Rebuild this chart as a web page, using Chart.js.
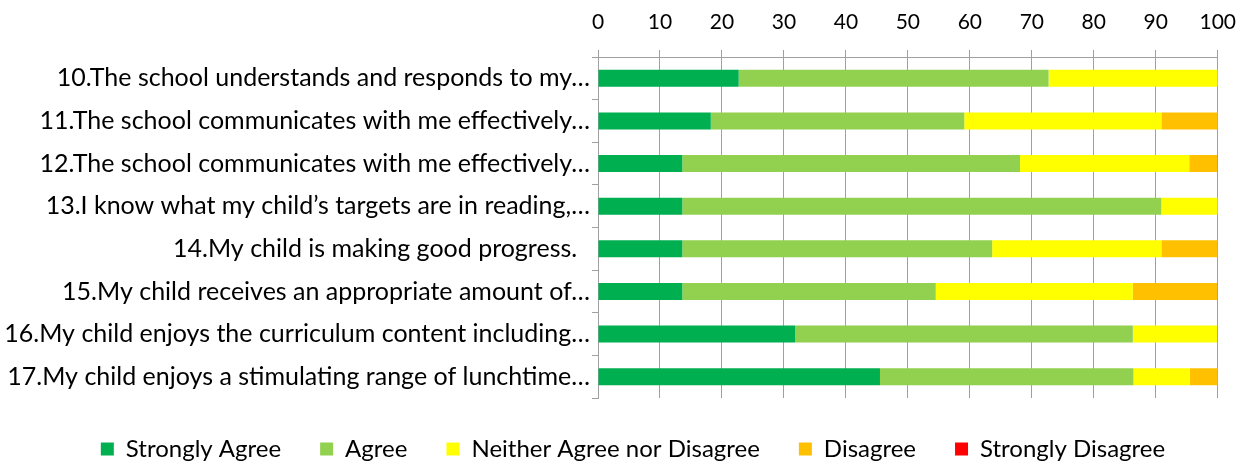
<!DOCTYPE html>
<html>
<head>
<meta charset="utf-8">
<script src="https://cdn.jsdelivr.net/npm/chart.js@4"></script>
<style>
  html, body { margin: 0; padding: 0; background: #fff; }
  #wrap { width: 1251px; height: 467px; }
</style>
</head>
<body>
<div id="wrap"><canvas id="surveyChart"></canvas></div>
<script>
// Survey questions (labels as shown, already truncated)
const questions = [
    '10.The school understands and responds to my…',
    '11.The school communicates with me effectively…',
    '12.The school communicates with me effectively…',
    '13.I know what my child\u2019s targets are in reading,…',
    '14.My child is making good progress.  ',
    '15.My child receives an appropriate amount of…',
    '16.My child enjoys the curriculum content including…',
    '17.My child enjoys a stimulating range of lunchtime…'
];

// Percent of responses
const stronglyAgree    = [22.7, 18.2, 13.6, 13.6, 13.6, 13.6, 31.8, 45.5];
const agree            = [50.0, 40.9, 54.5, 77.3, 50.0, 40.9, 54.5, 40.9];
const neither          = [27.3, 31.8, 27.3, 9.1, 27.3, 31.8, 13.6, 9.1];
const disagree         = [0, 9.1, 4.5, 0, 9.1, 13.6, 0, 4.5];
const stronglyDisagree = [0, 0, 0, 0, 0, 0, 0, 0];

const axisTicks = [0, 10, 20, 30, 40, 50, 60, 70, 80, 90, 100];

const font = 'Lato';
const gridGrey = '#a0a0a0';

// legend: short box, and nudged right (centred under the plot rather than the canvas)
const legendFit = {
    id: 'legendFit',
    afterInit: function(chart) {
        const legend = chart.legend;
        const fit = legend.fit;
        legend.fit = function() {
            fit.call(this);
            this.height = 69;
            if (this.lineWidths && this.lineWidths.length) this.lineWidths[0] -= 44;
        };
    }
};

const ctx = document.getElementById('surveyChart').getContext('2d');
const surveyChart = new Chart(ctx, {
    type: 'bar',
    data: {
        labels: questions,
        datasets: [
            { label: 'Strongly Agree', data: stronglyAgree, backgroundColor: '#00b050' },
            { label: 'Agree', data: agree, backgroundColor: '#92d050' },
            { label: 'Neither Agree nor Disagree', data: neither, backgroundColor: '#ffff00' },
            { label: 'Disagree', data: disagree, backgroundColor: '#ffc000' },
            { label: 'Strongly Disagree', data: stronglyDisagree, backgroundColor: '#ff0000' }
        ]
    },
    options: {
        indexAxis: 'y',
        responsive: true,
        maintainAspectRatio: false,
        animation: false,
        datasets: {
            bar: { categoryPercentage: 1, barPercentage: 0.4 }
        },
        layout: { padding: { left: 0, right: 29, top: 0, bottom: 0 } },
        scales: {
            x: {
                position: 'top',
                stacked: true,
                min: 0,
                max: 100,
                afterBuildTicks: function(scale) {
                    scale.ticks = axisTicks.map(v => ({ value: v }));
                },
                afterFit: function(scale) { scale.height = 57; },
                grid: { color: gridGrey, tickLength: 7, lineWidth: 1 },
                border: { color: gridGrey },
                ticks: { color: '#000', padding: 15, font: { family: font, size: 21 } }
            },
            y: {
                stacked: true,
                afterFit: function(scale) { scale.width = 598; },
                grid: { drawOnChartArea: false, color: gridGrey, tickLength: 6, offset: true },
                border: { color: gridGrey },
                ticks: { color: '#000', padding: 2, font: { family: font, size: 25 } }
            }
        },
        plugins: {
            legend: {
                position: 'bottom',
                labels: {
                    color: '#000',
                    boxWidth: 13,
                    boxHeight: 13,
                    padding: 39,
                    font: { family: font, size: 24 }
                }
            },
            tooltip: { enabled: false }
        }
    },
    plugins: [legendFit]
});
</script>
</body>
</html>
